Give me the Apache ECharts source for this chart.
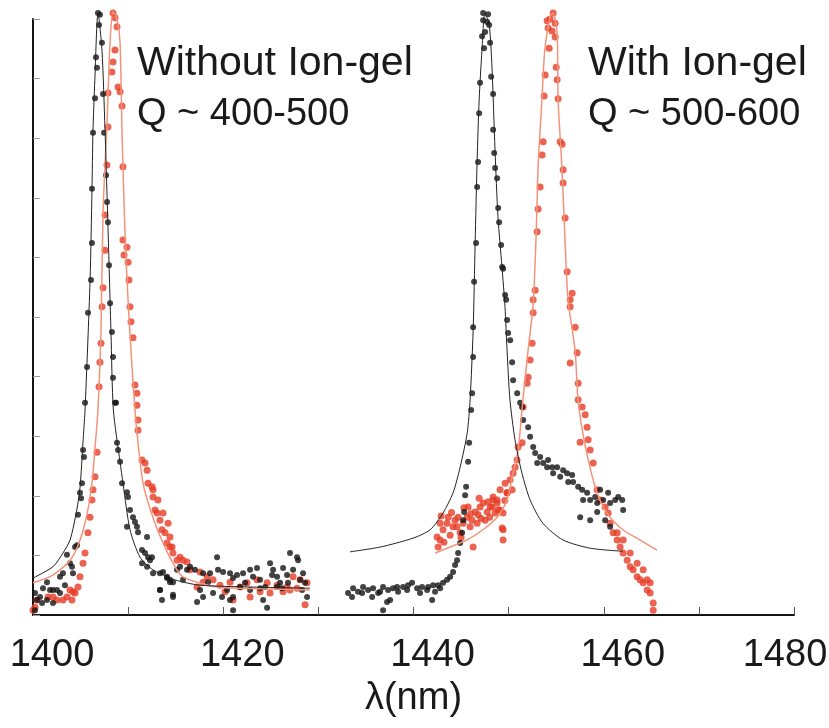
<!DOCTYPE html>
<html>
<head>
<meta charset="utf-8">
<script src="https://cdn.jsdelivr.net/npm/echarts@6/dist/echarts.min.js"></script>
<style>html,body{margin:0;padding:0;background:#fff;overflow:hidden}#c{width:829px;height:728px}</style>
</head>
<body>
<div id="c"></div>
<script>
// x tick labels shown on the axis
var xTickLabels = [1400, 1420, 1440, 1460, 1480];

// Without Ion-gel: black measured points
var woBlackPts = [
[1406.83,10.1],[1407.04,10.07],[1406.94,9.9],[1407.25,9.6],[1406.62,9.36],[1406.73,9.18],[1406.52,8.67],[1407.36,8.74],[1406.31,8.09],[1407.47,8.09],[1406.2,7.15],[1407.68,7.38],[1407.78,6.93],[1407.88,6.59],[1406.2,6.24],[1407.99,5.87],[1406.1,5.62],[1408.1,5.23],[1405.78,5.07],[1408.3,4.75],[1405.68,4.16],[1408.41,4.33],[1408.41,3.98],[1405.47,3.56],[1408.62,3.56],
[1405.26,2.77],[1405.36,2.65],[1405.15,2.21],[1404.94,2.05],[1405.05,1.96],[1404.73,1.68],[1404.63,1.17],[1404.42,1.14],[1403.57,1.01],[1403.89,0.87],[1404.1,0.81],[1404.2,0.7],[1403.15,0.7],[1402.84,0.64],[1402.52,0.42],[1402.1,0.42],[1401.79,0.42],[1401.47,0.55],[1401.05,0.45],[1400.74,0.3],[1400.21,0.37],[1400.42,0.25],[1400.21,0.08],[1400.95,0.2],[1401.47,0.25],[1402.1,0.2],[1402.84,0.37],[1403.36,0.5],
[1408.73,3.56],[1408.83,2.89],[1408.94,2.77],[1409.15,2.57],[1409.36,2.21],[1409.88,2.06],[1409.99,1.98],[1410.2,1.76],[1410.51,1.64],[1410.72,1.56],[1409.88,1.48],[1410.93,1.48],[1411.04,1.39],[1411.99,1.31],[1411.46,1.09],[1411.78,1.04],[1412.09,0.97],[1412.51,0.97],[1411.46,0.87],[1411.99,0.81],[1413.35,0.7],[1413.67,0.72],[1414.09,0.64],[1414.4,0.55],[1414.72,0.55],[1413.35,0.42],[1413.56,0.25],[1414.72,0.3],
[1419.35,0.97],[1419.45,0.76],[1418.61,0.7],[1419.98,0.72],[1420.71,0.7],[1421.03,0.62],[1421.45,0.67],[1422.08,0.7],[1422.82,0.76],[1423.13,0.64],[1423.55,0.79],[1423.87,0.59],[1424.4,0.47],[1424.92,0.87],[1425.24,0.76],[1425.66,0.64],[1425.97,0.54],[1426.29,0.79],[1426.71,0.67],[1427.02,1.04],[1427.76,0.97],[1427.87,0.92],[1428.39,0.7],[1428.6,0.54],[1428.81,0.3],[1424.61,0.12],[1424.19,0.25],[1422.82,0.42],[1421.03,0.3],[1420.71,0.25],[1421.77,0.47],[1420.4,0.42],[1417.88,0.3],[1417.56,0.42],[1417.25,0.22],[1415.77,0.59],[1416.19,0.76],[1416.51,0.81],[1415.46,0.81],[1415.14,0.76],[1414.4,0.59],[1414.09,0.62],[1413.35,0.42],[1414.72,0.34],[1412.62,0.7],[1412.3,0.92],[1417.03,0.76],[1417.88,0.7],[1418.4,0.55],[1418.93,0.37],[1419.87,0.3],[1421.03,0.08],[1422.29,0.54],[1423.87,0.45],[1425.13,0.67],[1425.66,0.47],[1426.18,0.45],[1426.81,0.54],[1427.34,0.76],[1428.08,0.59],[1428.29,0.42]
];

// Without Ion-gel: red measured points
var woRedPts = [
[1408.41,10.1],[1408.62,10.02],[1408.83,9.87],[1408.62,9.48],[1408.41,9.28],[1408.3,9.11],[1408.94,8.86],[1409.15,8.78],[1407.88,8.76],[1409.36,8.54],[1407.88,8.19],[1409.46,7.52],[1407.78,7.55],[1407.57,6.71],[1409.46,6.29],[1409.88,6.17],[1409.57,6.04],[1409.99,5.92],[1407.57,6.12],[1410.09,5.62],[1407.36,5.49],[1410.2,5.17],[1407.26,5.17],[1410.3,4.92],[1407.15,4.56],[1410.51,4.65],[1407.04,4.24],[1410.72,3.86],[1410.93,3.72],[1406.94,3.83],[1410.93,3.52],
[1406.73,2.73],[1406.52,2.32],[1406.31,2.1],[1406.2,1.93],[1405.99,1.64],[1405.78,1.38],[1405.47,1.04],[1405.26,0.87],[1404.94,0.64],[1404.73,0.47],[1404.42,0.37],[1404.1,0.25],[1403.57,0.3],[1403.15,0.25],[1402.52,0.25],[1402.1,0.3],[1403.89,0.42],[1401.58,0.3],[1400.42,0.25],[1400.21,0.13],[1400.0,0.08],[1404.2,0.39],
[1411.04,3.27],[1411.04,3.1],[1411.46,2.6],[1411.78,2.55],[1411.99,2.43],[1412.09,2.21],[1412.51,2.15],[1412.62,1.98],[1412.83,1.76],[1413.04,1.71],[1413.35,1.59],[1413.56,1.43],[1413.88,1.38],[1414.09,1.21],[1414.62,1.14],[1414.72,1.04],[1415.14,0.92],[1412.62,2.1],[1413.14,1.93],[1413.67,1.71],[1414.2,1.54],[1414.4,1.31],
[1414.4,1.14],[1415.46,0.97],[1415.77,0.92],[1416.19,0.89],[1416.51,0.76],[1417.56,0.72],[1418.3,0.64],[1418.93,0.59],[1419.66,0.5],[1420.71,0.55],[1421.03,0.25],[1421.77,0.47],[1422.82,0.3],[1423.87,0.39],[1424.61,0.54],[1425.66,0.5],[1426.71,0.47],[1427.34,0.64],[1428.08,0.59],[1428.6,0.17],[1428.81,0.54],[1417.25,0.47],[1417.88,0.55],[1420.19,0.39],[1422.5,0.54],[1423.55,0.59],[1424.92,0.37],[1426.29,0.39],[1427.76,0.45],[1427.02,0.42]
];

// Without Ion-gel: fitted curves
var woBlackFit = [
[1400.0,0.62],[1402.1,0.81],[1403.15,1.04],[1403.9,1.26],[1404.6,1.76],[1404.95,2.15],[1405.25,2.89],[1405.47,3.44],[1406.0,5.62],[1406.2,7.13],[1406.3,8.09],[1406.5,8.98],[1406.83,10.1],[1407.25,9.48],[1407.57,8.14],[1407.9,6.41],[1408.2,4.73],[1408.45,3.44],[1409.15,2.57],[1409.46,2.21],[1410.2,1.43],[1411.25,0.97],[1412.6,0.76],[1414.9,0.59],[1417.56,0.5],[1422.8,0.47],[1429.1,0.45]
];
var woRedFit = [
[1400.0,0.54],[1402.1,0.67],[1403.9,0.92],[1404.95,1.26],[1405.7,1.71],[1406.2,2.21],[1406.5,2.77],[1406.83,3.44],[1407.15,4.78],[1407.36,6.74],[1407.78,8.26],[1408.1,9.6],[1408.41,10.12],[1408.83,10.0],[1409.15,9.6],[1409.36,8.09],[1409.67,6.41],[1409.99,5.29],[1410.41,4.16],[1410.72,3.44],[1410.93,3.05],[1411.57,2.21],[1412.6,1.64],[1413.67,1.21],[1414.72,0.87],[1415.77,0.64],[1419.35,0.47],[1423.9,0.44],[1429.1,0.42]
];

// With Ion-gel: black measured points
var wBlackPts = [
[1433.12,0.37],[1433.65,0.45],[1434.17,0.39],[1434.7,0.47],[1435.23,0.42],[1435.75,0.45],[1436.28,0.37],[1436.8,0.47],[1436.8,0.08],[1437.22,0.22],[1437.54,0.25],[1437.85,0.45],[1438.38,0.39],[1438.9,0.47],[1439.33,0.42],[1439.85,0.54],[1440.38,0.45],[1440.9,0.47],[1441.43,0.42],[1441.96,0.25],[1442.27,0.39],[1442.59,0.5],[1443.11,0.54],[1443.53,0.59],[1443.85,0.64],[1444.16,0.72],[1444.37,0.84],[1444.58,0.92],[1444.69,1.04],[1444.9,1.21],[1445.11,1.38],[1445.22,1.59],[1445.32,1.73],[1445.43,2.01],[1445.53,2.15],[1445.74,2.57],[1445.85,2.89],[1433.54,0.3],[1434.6,0.37],[1435.65,0.3],[1436.49,0.39],[1437.33,0.42],[1438.28,0.47],[1439.43,0.5],[1440.69,0.37],[1441.54,0.47],[1442.06,0.5],[1442.8,0.45],
[1446.06,3.44],[1446.16,3.72],[1446.27,4.33],[1446.27,4.83],[1446.37,5.59],[1446.58,6.24],[1446.69,7.18],[1446.79,7.6],[1446.9,8.42],[1447.0,8.93],[1447.42,9.51],[1447.21,9.71],[1447.53,9.78],[1447.32,9.98],[1447.32,10.1],[1447.84,10.08],[1447.74,9.95],[1447.95,9.9],[1448.05,9.6],[1448.16,9.03],[1448.37,8.74],[1448.37,8.14],[1448.48,7.75],[1448.58,7.5],[1448.79,7.33],[1448.9,6.83],[1449.0,6.59],[1449.21,6.21],[1449.32,5.84],[1449.42,5.81],[1449.63,5.37],[1449.74,5.29],
[1449.84,4.95],[1449.95,4.73],[1450.16,4.61],[1450.37,4.24],[1450.47,3.94],[1450.9,3.72],[1451.21,3.56],[1451.42,3.49],[1451.53,3.27],[1452.05,3.15],[1452.26,2.99],[1452.58,2.82],[1452.79,2.72],[1453.0,2.55],[1453.31,2.65],[1453.63,2.55],[1454.05,2.48],[1454.15,2.6],[1454.58,2.48],[1454.68,2.38],[1455.1,2.48],[1455.42,2.32],[1455.73,2.43],[1456.15,2.38],[1456.26,2.23],[1456.68,2.35],[1456.78,2.23],[1457.31,2.15],[1457.73,2.1],[1457.83,1.93],[1458.25,2.05],[1458.57,1.93],[1459.1,1.98],[1459.31,1.88],[1459.62,2.1],[1459.94,1.93],[1460.46,2.05],[1460.67,1.88],[1461.2,1.93],[1461.52,1.98],[1461.94,1.93],[1462.04,1.76],[1457.52,1.64],[1458.57,1.59],[1459.31,1.73],[1460.15,1.59],[1460.67,1.48]
];

// With Ion-gel: red measured points
var wRedPts = [
[1442.48,1.31],[1442.8,1.26],[1442.59,1.14],[1443.11,1.43],[1443.53,1.54],[1443.85,1.34],[1444.16,1.48],[1444.37,1.59],[1444.69,1.64],[1444.9,1.38],[1445.22,1.54],[1445.64,1.64],[1445.74,1.81],[1446.16,1.59],[1446.27,1.14],[1446.48,1.73],[1446.79,1.68],[1447.0,1.81],[1447.32,1.88],[1447.74,1.73],[1447.84,1.9],[1448.27,1.81],[1448.37,1.98],[1448.79,1.93],[1449.1,2.1],[1449.32,1.46],[1449.42,1.26],[1449.63,2.21],[1449.84,2.05],[1450.16,2.27],[1450.37,2.1],[1450.47,2.38],[1450.68,2.48],[1450.89,2.6],[1442.8,1.54],[1443.64,1.64],[1444.58,1.48],[1445.95,1.48],[1446.69,1.54],[1447.53,1.59],[1448.58,1.71],[1448.9,1.76],[1448.05,1.81],[1448.37,1.93],[1448.79,1.88],[1449.1,1.76],[1449.42,1.71],[1449.42,1.43],[1449.84,2.05],
[1443.2,1.22],[1444.0,1.72],[1445.3,1.8],[1446.0,1.7],[1447.1,1.62],[1448.0,1.64],[1449.6,1.92],[1442.9,1.66],[1445.0,1.3],[1446.9,1.96],
[1451.0,2.82],[1451.42,2.89],[1451.53,3.49],[1451.95,3.89],[1452.05,3.99],[1452.26,4.28],[1452.47,4.56],[1452.58,5.07],
[1452.58,5.29],[1452.79,5.45],[1453.0,6.43],[1453.1,6.81],[1453.31,7.18],[1453.52,7.72],[1453.63,7.94],[1453.73,8.71],[1453.84,9.06],[1454.26,9.51],[1454.15,9.85],[1454.05,9.97],[1454.36,10.0],[1454.68,10.1],[1454.57,9.8],[1454.89,9.93],[1454.89,9.7],[1455.0,9.19],[1455.1,8.98],[1455.2,8.66],[1455.42,7.94],[1455.63,7.9],[1455.73,7.47],[1455.73,7.25],[1455.94,6.66],[1456.15,5.76],[1456.68,5.4],[1456.47,5.29],
[1456.47,5.17],[1457.0,4.83],[1456.47,4.23],[1457.2,4.4],[1457.31,3.89],[1457.31,3.61],[1457.73,3.49],[1458.05,3.36],[1458.25,3.15],[1457.52,2.9],[1458.36,2.94],[1458.57,2.77],[1458.89,2.55],[1459.31,2.1],[1459.62,1.93],[1460.15,1.81],[1460.46,1.71],[1460.67,1.54],[1460.99,1.38],[1461.41,1.26],[1461.72,1.14],[1462.04,1.04],[1462.46,0.92],[1462.78,0.81],[1463.09,0.76],[1463.51,0.64],[1463.83,0.59],[1464.14,0.54],[1464.56,0.42],[1464.88,0.37],[1465.2,0.2],[1465.2,0.08],[1461.41,1.38],[1462.04,1.26],[1462.78,1.04],[1463.51,0.87],[1464.14,0.76],[1464.56,0.59],[1464.88,0.54]
];

// With Ion-gel: fitted curves
var wBlackFit = [
[1433.33,1.06],[1436.5,1.14],[1439.96,1.29],[1441.75,1.43],[1443.1,1.71],[1444.16,2.05],[1444.9,2.48],[1445.64,3.05],[1445.95,3.61],[1446.27,4.78],[1446.48,6.24],[1446.69,7.63],[1446.9,8.64],[1447.2,9.48],[1447.5,10.08],[1447.94,9.93],[1448.25,9.19],[1448.57,7.8],[1448.88,6.68],[1449.3,5.84],[1449.62,5.17],[1449.83,4.45],[1450.14,3.61],[1450.67,2.94],[1451.4,2.38],[1452.26,1.93],[1453.6,1.54],[1455.7,1.26],[1458.6,1.12],[1462.0,1.07]
];
var wRedFit = [
[1442.27,1.04],[1443.85,1.14],[1445.64,1.26],[1447.3,1.43],[1448.8,1.64],[1449.83,1.93],[1450.47,2.38],[1451.0,2.77],[1451.5,3.61],[1452.05,4.45],[1452.57,5.2],[1452.9,6.41],[1453.1,7.52],[1453.5,8.64],[1453.8,9.48],[1454.35,10.03],[1454.66,10.1],[1455.1,9.77],[1455.2,8.64],[1455.6,7.52],[1455.9,6.41],[1456.24,5.29],[1456.98,4.45],[1457.3,3.61],[1457.8,3.05],[1458.55,2.48],[1459.3,2.05],[1460.34,1.71],[1462.0,1.43],[1463.8,1.26],[1465.6,1.09]
];

var chart = echarts.init(document.getElementById('c'), null, {renderer: 'canvas'});
var FONT = '"Liberation Sans", Arial, sans-serif';
var BLACK = '#141414';
var RED = '#e63c26';
var REDLINE = '#f5937a';

function pts(name, data, color, size) {
  return {name: name, type: 'scatter', data: data, symbol: 'circle', symbolSize: size,
    itemStyle: {color: color}, clip: false, silent: true, animation: false};
}
function fit(name, data, color, width) {
  return {name: name, type: 'line', data: data, symbol: 'none', smooth: 0.25,
    lineStyle: {color: color, width: width}, clip: false, silent: true, animation: false};
}

var lastTick = xTickLabels[xTickLabels.length - 1];

chart.setOption({
  backgroundColor: '#ffffff',
  animation: false,
  grid: {left: 33, right: 35, top: 19, bottom: 113, outerBoundsMode: 'none', containLabel: false},
  xAxis: {
    type: 'value', min: 1400, max: 1480, interval: 10,
    axisLine: {lineStyle: {color: BLACK, width: 2}},
    axisTick: {inside: true, length: 8, lineStyle: {color: '#555', width: 1}},
    axisLabel: {
      formatter: function (v) {
        if (xTickLabels.indexOf(v) < 0) return '';
        return v === lastTick ? '{e|' + v + '}' : String(v);
      },
      fontSize: 38, fontFamily: FONT, color: '#1a1a1a', margin: 22, padding: [0, 0, 0, 38],
      hideOverlap: false,
      rich: {e: {fontSize: 38, fontFamily: FONT, color: '#1a1a1a', padding: [0, 56, 0, 0]}}
    },
    splitLine: {show: false},
    name: 'λ(nm)', nameLocation: 'middle', nameGap: 58,
    nameTextStyle: {fontSize: 38, fontFamily: FONT, color: '#1a1a1a'}
  },
  yAxis: {
    type: 'value', min: 0, max: 10, interval: 1,
    axisLine: {show: true, lineStyle: {color: BLACK, width: 2}},
    axisTick: {show: true, inside: true, length: 7, lineStyle: {color: '#999', width: 1}},
    axisLabel: {show: false},
    splitLine: {show: false}
  },
  graphic: [
    {type: 'text', style: {x: 137, y: 64, text: 'Without Ion-gel', font: '41px ' + FONT, fill: '#1a1a1a', verticalAlign: 'middle'}},
    {type: 'text', style: {x: 137, y: 115, text: 'Q ~ 400-500', font: '38px ' + FONT, fill: '#1a1a1a', verticalAlign: 'middle'}},
    {type: 'text', style: {x: 588, y: 64, text: 'With Ion-gel', font: '41px ' + FONT, fill: '#1a1a1a', verticalAlign: 'middle'}},
    {type: 'text', style: {x: 588, y: 115, text: 'Q ~ 500-600', font: '38px ' + FONT, fill: '#1a1a1a', verticalAlign: 'middle'}}
  ],
  series: [
    pts('woRed', woRedPts, RED, 7),
    pts('wRed', wRedPts, RED, 7),
    pts('woBlack', woBlackPts, BLACK, 6),
    pts('wBlack', wBlackPts, BLACK, 6),
    fit('woRedFit', woRedFit, REDLINE, 1.5),
    fit('wRedFit', wRedFit, REDLINE, 1.5),
    fit('woBlackFit', woBlackFit, '#222', 1),
    fit('wBlackFit', wBlackFit, '#222', 1)
  ]
});
</script>
</body>
</html>
